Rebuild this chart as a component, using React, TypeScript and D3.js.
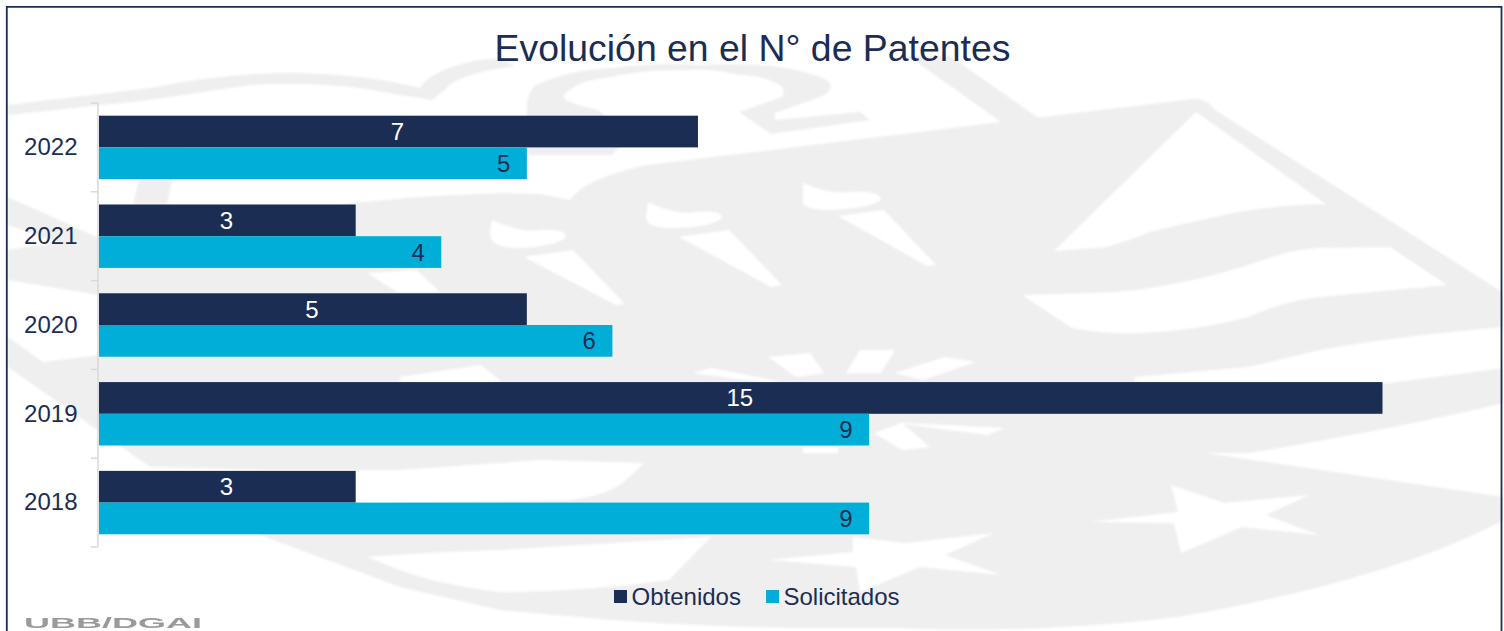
import React from "react";
import * as d3 from "d3";

const years = ["2022", "2021", "2020", "2019", "2018"];
const obtenidos = [7, 3, 5, 15, 3];
const solicitados = [5, 4, 6, 9, 9];
const seriesNames = ["Obtenidos", "Solicitados"];
const titleText = "Evolución en el N° de Patentes";
const footerText = "UBB/DGAI";

const NAVY = "#1c2d53";
const CYAN = "#00aed8";
const WM = "#efefef";

const wmGray = [
  // main shield, ring and flag
  "M8,250 L97,237 L353,203 Q430,195 500,193 L540,194 L570,200 Q585,178 647,165 L1001,122 L1185,100 Q1205,95 1215,110 L1504,293 L1504,403 Q1390,430 1249,453 L1206,453 L1504,497 L1504,520 Q1390,580 1178,617 Q1040,634 895,628 Q750,630 612,620 L500,610 L400,587 L260,535 L400,503 L570,500 Q610,495 626,480 L644,463 L541,460 L400,470 L267,470 L150,467 L8,367 L8,337 L43,362 L99,355 L99,295 L8,280 Z",
  // top arc
  "M8,105 L150,88 Q230,72 300,73 Q370,75 420,88 Q430,70 478,60 L500,58 L515,66 Q455,74 445,90 L432,100 L400,95 Q330,80 250,85 L150,100 L8,115 Z",
  // top ring figure
  "M527,103 Q530,85 541,83 Q570,70 612,68 Q660,62 697,65 Q760,62 796,70 Q830,78 831,85 Q830,95 817,98 L775,113 L775,120 L860,112 L870,120 L771,134 L739,112 L782,97 Q785,90 782,87 Q765,75 739,75 Q710,68 683,70 Q640,70 612,77 Q580,80 570,90 Q560,95 566,100 Q575,105 598,110 L630,135 L612,155 L527,155 Z",
  // diagonal band to the shield
  "M908,56 L950,56 L1040,119 L1001,122 Z",
  // sliver under the top bar
  "M133,204 L147,147 L180,147 L167,204 Z",
  // left diagonal
  "M8,197 L97,237 L60,243 L8,225 Z",
];

const wmWhite = [
  // triangle
  "M1196,112 L1326,204 Q1275,205 1234,213 Q1190,222 1150,232 Q1130,240 1107,247 L1054,251 Z",
  // flag stripe
  "M1022,295 L1072,328 Q1105,335 1143,333 Q1200,330 1249,317 Q1280,302 1319,297 L1447,285 L1390,247 L1319,248 Q1290,250 1263,260 Q1220,275 1178,283 Q1135,292 1093,293 Z",
  // right blob
  "M1504,327 Q1390,337 1320,350 L1249,367 L1135,377 L1135,382 L1390,383 L1504,368 Z",
  // small stripes
  "M367,273 L417,270 L440,292 L397,292 Z",
  "M400,377 L481,365 L502,382 L400,382 Z",
  // lower wedge
  "M367,557 Q430,552 500,550 L711,537 L669,580 Q580,592 500,592 Q440,585 400,570 Z",
  // torches
  "M838,216 L884,210 L936,265 L927,266 Z",
  "M803,183 Q830,195 850,192 Q880,190 881,200 Q870,208 831,210 Q805,210 803,203 Z",
  "M679,237 L729,230 L782,285 L771,287 Z",
  "M648,202 Q675,215 695,212 Q722,210 722,218 Q710,228 672,228 Q646,228 646,217 Z",
  "M524,257 L573,250 L625,304 L616,305 Z",
  "M492,220 Q520,233 540,230 Q566,228 566,237 Q555,247 517,248 Q490,248 490,233 Z",
  // sun rays
  "M768,357 L810,353 L824,373 L796,377 Z",
  "M860,350 L895,350 L881,373 L846,373 Z",
  "M945,357 L976,362 L923,380 L895,373 Z",
  "M693,373 L711,368 L782,382 L768,383 Z",
  "M906,423 L1005,428 L987,435 L895,423 Z",
  "M874,433 L902,423 L930,447 L902,450 Z",
  "M803,447 L838,447 L838,453 L803,453 Z",
  // stars
  "M994,533 L945,555 L1001,575 L920,567 L860,592 L856,567 L768,560 L853,552 L853,537 L906,543 Z",
  "M1309,495 L1266,515 L1319,535 L1242,527 L1181,553 L1174,523 L1090,522 L1178,512 L1171,485 L1224,503 Z",
];

const x = d3.scaleLinear().domain([0, 15]).range([99, 1382.5]);
const y = d3.scaleBand<string>().domain(years).range([103, 547]);
const inner = d3
  .scaleBand<string>()
  .domain(seriesNames)
  .range([0, y.bandwidth()])
  .paddingOuter(0.4);

const font = "'Liberation Sans', Arial, sans-serif";

export default function App() {
  const tickYs = [...years.map((d) => y(d) as number), 547];
  return (
    <svg
      width={1504}
      height={631}
      style={{ position: "absolute", left: 0, top: 0, background: "#fff" }}
      fontFamily={font}
    >
      <defs>
        <filter id="soft" x="-2%" y="-2%" width="104%" height="104%">
          <feGaussianBlur stdDeviation={1} />
        </filter>
        <filter id="softText" x="-5%" y="-30%" width="110%" height="160%">
          <feGaussianBlur stdDeviation={0.5} />
        </filter>
      </defs>
      <g filter="url(#soft)">
        {wmGray.map((d, i) => (
          <path key={i} d={d} fill={WM} />
        ))}
        {wmWhite.map((d, i) => (
          <path key={i} d={d} fill="#fff" />
        ))}
      </g>
      <rect x={0} y={0} width={6} height={631} fill="#fff" />
      <rect x={1503} y={0} width={1} height={631} fill="#fff" />
      <path
        d="M6.8,631 L6.8,6.8 L1501.5,6.8 L1501.5,631"
        fill="none"
        stroke={NAVY}
        strokeWidth={1.8}
      />

      <text x={752.5} y={61} textAnchor="middle" fontSize={37.4} fill={NAVY}>
        {titleText}
      </text>

      {/* axis */}
      <line x1={98} x2={98} y1={103} y2={547} stroke="#d9d9d9" strokeWidth={1.5} />
      {tickYs.map((t, i) => (
        <line key={i} x1={91} x2={98} y1={t} y2={t} stroke="#d9d9d9" strokeWidth={1.5} />
      ))}
      {years.map((yr) => (
        <text
          key={yr}
          x={77.5}
          y={(y(yr) as number) + y.bandwidth() / 2 + 7.8}
          textAnchor="end"
          fontSize={24}
          fill={NAVY}
        >
          {yr}
        </text>
      ))}

      {/* bars */}
      {years.map((yr, i) => {
        const y0 = y(yr) as number;
        const yA = y0 + (inner("Obtenidos") as number);
        const yB = y0 + (inner("Solicitados") as number);
        const h = inner.bandwidth();
        return (
          <g key={yr}>
            <rect x={x(0)} y={yA} width={x(obtenidos[i]) - x(0)} height={h} fill={NAVY} />
            <rect x={x(0)} y={yB} width={x(solicitados[i]) - x(0)} height={h} fill={CYAN} />
            <text
              x={(x(0) + x(obtenidos[i])) / 2 - 1}
              y={yA + h / 2 + 8.5}
              textAnchor="middle"
              fontSize={24}
              fill="#fff"
            >
              {obtenidos[i]}
            </text>
            <text
              x={x(solicitados[i]) - 16.5}
              y={yB + h / 2 + 8.5}
              textAnchor="end"
              fontSize={24}
              fill={NAVY}
            >
              {solicitados[i]}
            </text>
          </g>
        );
      })}

      {/* legend */}
      <rect x={614} y={590} width={13} height={13} fill={NAVY} />
      <text x={631.5} y={605} fontSize={24} fill={NAVY}>
        {seriesNames[0]}
      </text>
      <rect x={766} y={590} width={13} height={13} fill={CYAN} />
      <text x={783.5} y={605} fontSize={24} fill={NAVY}>
        {seriesNames[1]}
      </text>

      <text
        x={24}
        y={627.5}
        fontSize={14}
        fontWeight="bold"
        fill="#9a9a9a"
        textLength={178}
        lengthAdjust="spacingAndGlyphs"
        filter="url(#softText)"
      >
        {footerText}
      </text>
    </svg>
  );
}
